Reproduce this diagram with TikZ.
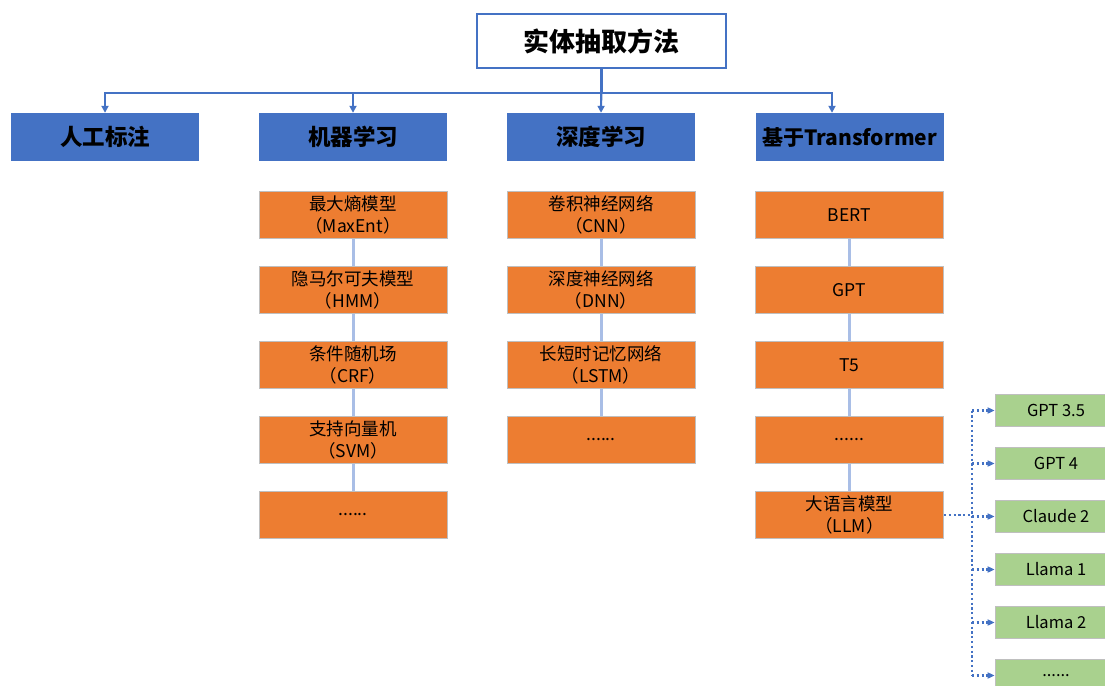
\documentclass[tikz,border=0pt]{standalone}
\usepackage{fontspec}
\setmainfont{Noto Sans CJK SC}
\usetikzlibrary{arrows.meta}
\definecolor{hdblue}{HTML}{4472C4}
\definecolor{boxorange}{HTML}{ED7D31}
\definecolor{boxgreen}{HTML}{A9D18E}
\definecolor{linkblue}{HTML}{A9BEE6}
\definecolor{edgegray}{HTML}{BFBFBF}
\newcommand{\moredots}{......}

\begin{document}
\begin{tikzpicture}[x=1pt,y=-1pt,
  head/.style={draw=hdblue,line width=2.5pt,fill=white,minimum width=249pt,minimum height=54pt,
    font=\fontsize{26}{30}\selectfont\bfseries},
  level/.style={fill=hdblue,minimum width=188pt,minimum height=48pt,inner sep=0pt,
    font=\fontsize{22.5}{26}\selectfont\bfseries},
  model/.style={draw=edgegray,line width=0.8pt,fill=boxorange,minimum width=188pt,minimum height=47pt,
    inner sep=0pt,align=center,font=\fontsize{17.5}{22}\selectfont},
  llm/.style={draw=edgegray,line width=0.8pt,fill=boxgreen,minimum width=122pt,minimum height=32pt,
    inner sep=0pt,font=\fontsize{16.5}{20}\selectfont},
  tree/.style={draw=hdblue,line width=2.2pt,-{Triangle[length=7pt,width=7pt]}},
  link/.style={draw=linkblue,line width=3pt},
  fork/.style={draw=hdblue,line width=2.2pt,dash pattern=on 2.2pt off 2.6pt,-{Triangle[length=7pt,width=6pt]}}]
\clip (0,0) rectangle (1105,685);
\useasboundingbox (0,0) rectangle (1105,685);

\node[head] (root) at (601.5,41) {实体抽取方法};

\node[level] (manual) at (105,137) {人工标注};
\node[level] (ml) at (353,137) {机器学习};
\node[level] (dl) at (601,137) {深度学习};
\node[level,font=\fontsize{21}{26}\selectfont\bfseries] (tf) at (849.5,137) {基于Transformer};

\draw[tree] (root.south) -- ++(0,24) -| (manual.north);
\draw[tree] (root.south) -- ++(0,24) -| (ml.north);
\draw[tree] (root.south) -- (dl.north);
\draw[tree] (root.south) -- ++(0,24) -| ([xshift=-17.5pt]tf.north);

\foreach \i/\txt in {1/最大熵模型\\（MaxEnt）, 2/隐马尔可夫模型\\（HMM）, 3/条件随机场\\（CRF）,
    4/支持向量机\\（SVM）, 5/\moredots}
  \node[model] (ml\i) at (353,140+75*\i) {\txt};
\foreach \i/\txt in {1/卷积神经网络\\（CNN）, 2/深度神经网络\\（DNN）, 3/长短时记忆网络\\（LSTM）, 4/\moredots}
  \node[model] (dl\i) at (601,140+75*\i) {\txt};
\foreach \i/\txt in {1/BERT, 2/GPT, 3/T5, 4/\moredots, 5/大语言模型\\（LLM）}
  \node[model] (tf\i) at (849.5,140+75*\i) {\txt};

\foreach \i [evaluate=\i as \j using int(\i+1)] in {1,...,4} {
  \draw[link] (ml\i) -- (ml\j);
  \draw[link] (tf\i) -- (tf\j);
}
\foreach \i [evaluate=\i as \j using int(\i+1)] in {1,...,3}
  \draw[link] (dl\i) -- (dl\j);

\foreach \i/\txt in {1/GPT 3.5, 2/GPT 4, 3/Claude 2, 4/Llama 1, 5/Llama 2, 6/\moredots}
  \node[llm] (g\i) at (1056,357.5+53*\i) {\txt};

\coordinate (split) at ([xshift=28pt]tf5.east);
\draw[fork,-] (tf5.east) -- (split);
\draw[fork,-] (g1.west -| split) -- (g6.west -| split);
\foreach \i in {1,...,6}
  \draw[fork] (g\i.west -| split) -- (g\i.west);
\end{tikzpicture}
\end{document}
